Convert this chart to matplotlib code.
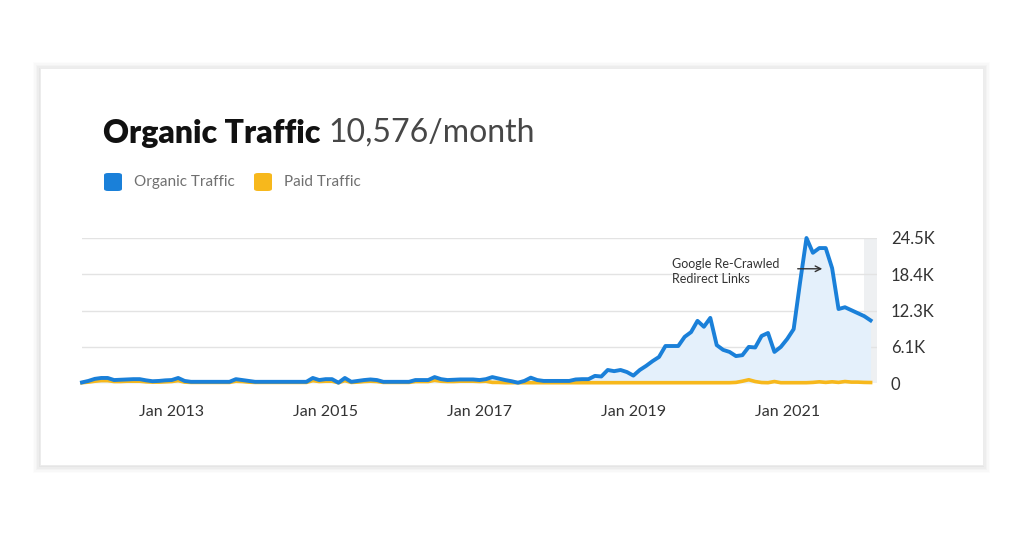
import matplotlib
matplotlib.use("Agg")
import matplotlib.pyplot as plt
from matplotlib.patches import FancyBboxPatch, Rectangle

# ---- data (monthly, Nov 2011 .. Feb 2022) ----
organic = [100, 350, 700, 850, 850, 500, 550, 600, 650, 650,
           450, 300, 350, 450, 500, 850, 350, 200, 200, 200,
           200, 200, 200, 200, 650, 500, 350, 200, 200, 200,
           200, 200, 200, 200, 200, 200, 850, 500, 650, 650,
           50, 850, 200, 350, 500, 600, 500, 200, 200, 200,
           200, 200, 500, 500, 500, 1000, 650, 500, 550, 600,
           600, 600, 500, 650, 1000, 750, 500, 300, 50, 350,
           900, 500, 350, 350, 350, 350, 350, 600, 650, 650,
           1200, 1100, 2200, 2000, 2200, 1850, 1250, 2200, 2900, 3700,
           4400, 6250, 6250, 6250, 7800, 8600, 10500, 9500, 11000, 6400,
           5600, 5250, 4550, 4700, 6100, 6000, 7950, 8450, 5250, 6100,
           7450, 9100, 17000, 24500, 22000, 22800, 22800, 19400, 12500, 12800,
           12300, 11800, 11300, 10576]
paid = [50, 150, 300, 400, 400, 250, 250, 300, 300, 300,
        200, 150, 150, 200, 250, 400, 150, 100, 100, 100,
        100, 100, 100, 100, 300, 250, 150, 100, 100, 100,
        100, 100, 100, 100, 100, 100, 400, 250, 300, 300,
        50, 400, 100, 150, 250, 300, 250, 100, 100, 100,
        100, 100, 250, 250, 250, 450, 300, 250, 250, 300,
        300, 300, 250, 300, 100, 100, 50, 50, 50, 50,
        50, 50, 50, 50, 50, 50, 50, 50, 50, 50,
        50, 50, 50, 50, 50, 50, 50, 50, 50, 50,
        50, 50, 50, 50, 50, 50, 50, 50, 50, 50,
        50, 50, 100, 300, 550, 250, 80, 50, 250, 50,
        50, 50, 50, 50, 100, 200, 100, 200, 100, 250,
        150, 150, 100, 80]
tick_pos = [14, 38, 62, 86, 110]
tick_labels = ["Jan 2013", "Jan 2015", "Jan 2017", "Jan 2019", "Jan 2021"]
y_ticks = [0, 6125, 12250, 18375, 24500]
y_labels = ["0", "6.1K", "12.3K", "18.4K", "24.5K"]

BLUE = "#1a80d9"
YELLOW = "#f7b81c"
FONT = ["Lato", "DejaVu Sans"]
plt.rcParams["font.family"] = FONT

W, H = 1024, 534
fig = plt.figure(figsize=(W / 100, H / 100), dpi=100)
fig.patch.set_facecolor("white")

# card with soft shadow
cx0, cy0, cx1, cy1 = 40, 68, 983, 465
for i, a in enumerate([0.012, 0.015, 0.02, 0.025, 0.03]):
    g = 7 - i * 1.4
    fig.patches.append(Rectangle(((cx0 - g) / W, 1 - (cy1 + g + 1) / H),
                                 (cx1 - cx0 + 2 * g) / W, (cy1 - cy0 + 2 * g) / H,
                                 transform=fig.transFigure, facecolor="black",
                                 alpha=a, edgecolor="none", zorder=0))
fig.patches.append(Rectangle((cx0 / W, 1 - cy1 / H), (cx1 - cx0) / W, (cy1 - cy0) / H,
                             transform=fig.transFigure, facecolor="white",
                             edgecolor="#ececec", linewidth=0.6, zorder=1))

# axes
left, right, top, bottom = 82, 877, 238, 383
ax = fig.add_axes([left / W, 1 - bottom / H, (right - left) / W, (bottom - top) / H])
ax.set_zorder(3)
ax.patch.set_alpha(0)
x = list(range(len(organic)))
ax.set_xlim(0, 124)
ax.set_ylim(0, 24500)

ax.axvspan(121.9, 124, color="#eef0f2", zorder=0, lw=0)
for yt in y_ticks[1:]:
    ax.axhline(yt, color="#e3e3e3", lw=1.0, zorder=1)
ax.fill_between(x, organic, 0, color="#e4f0fb", zorder=1, lw=0)
ax.plot(x, paid, color=YELLOW, lw=2.6, zorder=2, solid_joinstyle="round", clip_on=False)
ax.plot(x, organic, color=BLUE, lw=2.8, zorder=3, solid_joinstyle="round", clip_on=False)

for s in ax.spines.values():
    s.set_visible(False)
ax.set_xticks(tick_pos)
ax.set_xticklabels(tick_labels, fontsize=11.5, color="#333333")
ax.set_yticks(y_ticks)
ax.set_yticklabels(y_labels, fontsize=12, color="#333333")
ax.yaxis.tick_right()
ax.tick_params(axis="both", length=0)
ax.tick_params(axis="y", pad=10)
ax.tick_params(axis="x", pad=16)

# annotation
ax.text(92.0, 18900, "Google Re-Crawled\nRedirect Links", fontsize=9, color="#333333",
        va="center", ha="left", linespacing=1.3, zorder=5)
ax.annotate("", xy=(115.9, 19300), xytext=(111.2, 19300),
            arrowprops=dict(arrowstyle="->", color="#333333", lw=1.0), zorder=5)

# title
renderer = fig.canvas.get_renderer()
t1 = fig.text(103 / W, 1 - 133 / H, "Organic Traffic", fontsize=23, fontweight="heavy",
              color="#111111", va="center", ha="left")
bb = t1.get_window_extent(renderer)
fig.text(bb.x1 / W + 8 / W, 1 - 133 / H, "10,576/month", fontsize=23, color="#474747",
         va="center", ha="left")

# legend
def legend_item(x0, color, label):
    fig.patches.append(FancyBboxPatch((x0 / W, 1 - 191 / H), 18 / W, 18 / H,
                                      boxstyle="round,pad=0,rounding_size=0.004",
                                      transform=fig.transFigure, facecolor=color,
                                      edgecolor="none", zorder=3))
    fig.text((x0 + 30) / W, 1 - 182 / H, label, fontsize=11, color="#707070",
             va="center", ha="left")

legend_item(104, BLUE, "Organic Traffic")
legend_item(254, YELLOW, "Paid Traffic")

fig.savefig("out.png", dpi=100, facecolor="white")
